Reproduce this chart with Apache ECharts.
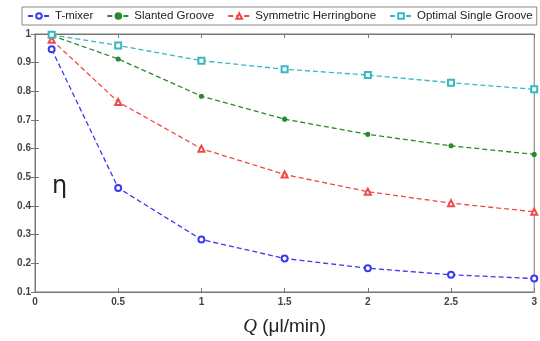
<!DOCTYPE html>
<html><head><meta charset="utf-8">
<script src="https://cdn.jsdelivr.net/npm/echarts@6/dist/echarts.min.js"></script>
<style>html,body{margin:0;padding:0;background:#fff}#c{width:540px;height:341px}</style>
</head><body><div id="c"></div>
<script>
const flowRates = [0.1, 0.5, 1, 1.5, 2, 2.5, 3];
const seriesNames = ['T-mixer', 'Slanted Groove', 'Symmetric Herringbone', 'Optimal Single Groove'];
const tMixer = [0.947, 0.463, 0.283, 0.217, 0.183, 0.160, 0.147];
const slantedGroove = [0.995, 0.913, 0.783, 0.703, 0.650, 0.610, 0.580];
const symmetricHerringbone = [0.980, 0.763, 0.600, 0.510, 0.450, 0.410, 0.380];
const optimalSingleGroove = [0.997, 0.960, 0.907, 0.877, 0.857, 0.830, 0.807];

const colors = ['#3a3af0', '#2a8a2a', '#f04848', '#35b8c0'];
const symbols = ['emptyCircle', 'circle', 'emptyTriangle', 'emptyRect'];
const values = [tMixer, slantedGroove, symmetricHerringbone, optimalSingleGroove];

const chart = echarts.init(document.getElementById('c'));
const tickFont = {color: '#444', fontSize: 10, fontFamily: 'Liberation Sans, Arial', fontWeight: 'bold'};
chart.setOption({
  animation: false,
  color: colors,
  grid: {left: 35, right: 2, top: 34, bottom: 37, show: true, borderColor: '#777', borderWidth: 1},
  legend: {
    top: 7, left: 22, width: 515,
    data: seriesNames,
    itemWidth: 22, itemHeight: 7, itemGap: 13,
    borderColor: '#888', borderWidth: 1, padding: [3, 4, 3, 5],
    textStyle: {fontSize: 11.5, fontFamily: 'Liberation Sans, Arial', color: '#222'}
  },
  xAxis: [{
    type: 'value', min: 0, max: 3, interval: 0.5,
    axisLine: {lineStyle: {color: '#777'}},
    axisTick: {inside: true, length: 4, lineStyle: {color: '#777'}},
    splitLine: {show: false},
    axisLabel: Object.assign({margin: 5}, tickFont),
    name: '{q|Q} (μl/min)', nameLocation: 'middle', nameGap: 25,
    nameTextStyle: {fontSize: 19, color: '#222', fontFamily: 'Liberation Sans, Arial',
      rich: {q: {fontSize: 19, fontStyle: 'italic', fontFamily: 'Liberation Serif, Times New Roman', color: '#222'}}}
  }, {
    type: 'value', min: 0, max: 3, interval: 0.5, position: 'top',
    axisLine: {lineStyle: {color: '#777'}},
    axisTick: {inside: true, length: 4, lineStyle: {color: '#777'}},
    axisLabel: {show: false}, splitLine: {show: false}
  }],
  yAxis: [{
    type: 'value', min: 0.1, max: 1, interval: 0.1,
    axisLine: {show: true, lineStyle: {color: '#777'}},
    axisTick: {show: true, inside: true, length: 4, lineStyle: {color: '#777'}},
    splitLine: {show: false},
    axisLabel: Object.assign({margin: 4, formatter: v => +v.toFixed(1) + ''}, tickFont)
  }, {
    type: 'value', min: 0.1, max: 1, interval: 0.1, position: 'right',
    axisLine: {show: true, lineStyle: {color: '#777'}},
    axisTick: {show: true, inside: true, length: 4, lineStyle: {color: '#777'}},
    axisLabel: {show: false}, splitLine: {show: false}
  }],
  graphic: [{
    type: 'text', left: 52, top: 175,
    style: {text: 'η', fontSize: 24, fill: '#222', fontFamily: 'DejaVu Sans, Arial'}
  }],
  series: seriesNames.map((n, i) => ({
    name: n, type: 'line',
    data: flowRates.map((x, j) => [x, values[i][j]]),
    symbol: symbols[i], symbolSize: i === 1 ? 4 : 6,
    lineStyle: {type: [5, 3], width: 1.3, color: colors[i]},
    itemStyle: {color: colors[i], borderColor: colors[i], borderWidth: 1.1}
  }))
});
</script></body></html>
